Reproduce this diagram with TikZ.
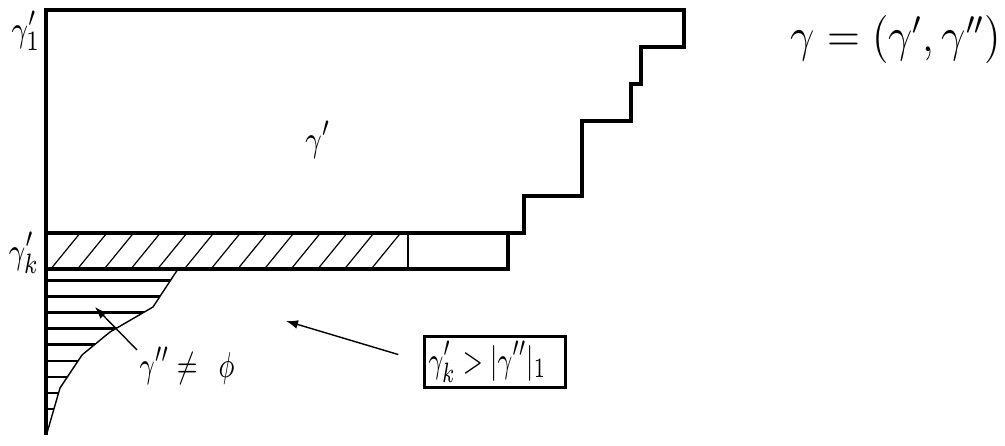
\documentclass[tikz,border=0pt]{standalone}
\usetikzlibrary{arrows.meta}
\newcommand{\nrw}[1]{\scalebox{0.78}[1]{#1}}
\begin{document}
\begin{tikzpicture}[x=0.25pt,y=-0.25pt,
  outline/.style={line width=1pt, line join=miter},
  thinline/.style={line width=0.5pt},
  diag/.style={line width=0.3pt},
  hatchthick/.style={line width=0.75pt},
  hatchthin/.style={line width=0.5pt},
  curveline/.style={line width=0.35pt},
  arr/.style={line width=0.35pt, -{Latex[length=3pt,width=2.2pt]}},
  lbl/.style={font=\fontsize{9.5pt}{11pt}\selectfont, inner sep=0pt},
  biglbl/.style={font=\fontsize{11.5pt}{13pt}\selectfont, inner sep=0pt},
  boxlbl/.style={draw, line width=0.7pt, font=\fontsize{9.5pt}{11pt}\selectfont, inner sep=0pt, minimum height=12.75pt}
]
\useasboundingbox (0,0) rectangle (1005,446);

% hatched part of the strip
\begin{scope}
  \clip (46,233) rectangle (408,269);
  \foreach \i in {0,...,12}
    \draw[diag] ({50+26.7*\i},270) -- ({81+26.7*\i},232);
\end{scope}

% gamma'' region hatching
\begin{scope}
  \clip (46,269) -- (178,269) -- (153,307) -- (110,332) -- (82,355) -- (60,388) -- (47,433) -- (46,433) -- cycle;
  \foreach \yy in {281,297,313,329,345}
    \draw[hatchthick] (44,\yy) -- (200,\yy);
  \foreach \yy in {361,377,393,409}
    \draw[hatchthin] (44,\yy) -- (200,\yy);
\end{scope}
\draw[curveline] (178,269) -- (153,307) -- (110,332) -- (82,355) -- (60,388) -- (47,433);

% main outline
\draw[outline] (46,435) -- (46,10) -- (684,10) -- (684,47) -- (641,47) -- (641,84)
  -- (631,84) -- (631,121) -- (582,121) -- (582,196) -- (524,196) -- (524,233) -- (46,233);
\draw[outline] (46,269) -- (508,269) -- (508,233);
\draw[thinline] (408,233) -- (408,269);

% labels
\node[lbl] (g1) at (26,31) {\nrw{$\gamma'_1$}};
\node[lbl] (gk) at (24,253) {\nrw{$\gamma'_k$}};
\node[lbl] (gp) at (318,140) {\nrw{$\gamma'$}};
\node[biglbl] (gg) at (896,40) {\scalebox{0.9}[1]{$\gamma=(\gamma',\gamma'')$}};
\node[lbl] (gpp) at (187,366) {\scalebox{0.72}[1]{$\gamma''\neq\ \,\phi$}};
\node[boxlbl] (box) at (495,362) {\hspace*{1pt}\scalebox{0.7}[1]{$\gamma'_k>|\gamma''|_1$}\hspace*{4.75pt}};

% arrows
\coordinate (t1) at (286,321);
\coordinate (s2) at (137,350);
\coordinate (t2) at (95,307);
\draw[arr, shorten <=6.5pt] (box.west) -- (t1);
\draw[arr] (s2) -- (t2);
\end{tikzpicture}
\end{document}
